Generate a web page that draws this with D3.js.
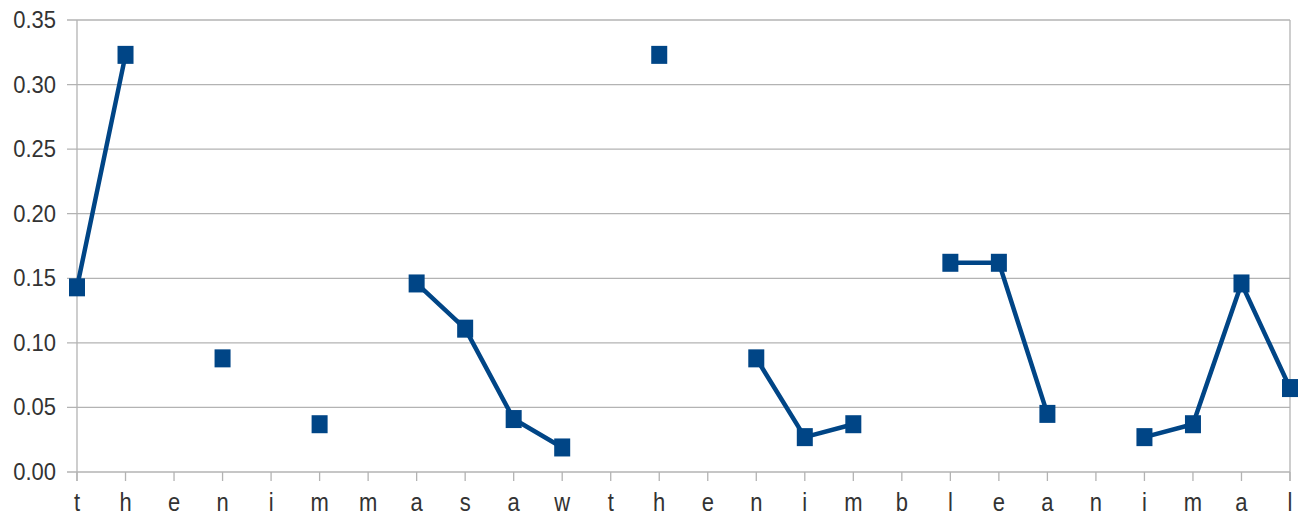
<!DOCTYPE html>
<html><head><meta charset="utf-8">
<script src="https://cdn.jsdelivr.net/npm/d3@7"></script>
<style>body{margin:0;background:#fff}svg{display:block}text{font-family:"Liberation Sans",Arial,sans-serif}</style>
</head><body>
<svg id="c" width="1304" height="517"></svg>
<script>
const categories = ["t","h","e","n","i","m","m","a","s","a","w","t","h","e","n","i","m","b","l","e","a","n","i","m","a","l"];
const values = [0.143,0.323,null,0.088,null,0.037,null,0.146,0.111,0.041,0.019,null,0.323,null,0.088,0.027,0.037,null,0.162,0.162,0.045,null,0.027,0.037,0.146,0.065];
const yTicks = [0,0.05,0.10,0.15,0.20,0.25,0.30,0.35];

(function(){
const svg = d3.select("#c");
const pl = 77, pr = 1290, pt = 20, pb = 472;
const x = d3.scalePoint().domain(d3.range(categories.length)).range([pl, pr]);
const y = d3.scaleLinear().domain([0, 0.35]).range([pb, pt]);
const grid = "#b3b3b3";

svg.append("g").selectAll("line").data(yTicks).join("line")
  .attr("x1", pl - 10).attr("x2", pr)
  .attr("y1", d => y(d)).attr("y2", d => y(d))
  .attr("stroke", grid).attr("stroke-width", 1.3);
svg.append("line").attr("x1", pl).attr("x2", pl).attr("y1", pt).attr("y2", pb + 9).attr("stroke", grid).attr("stroke-width", 1.3);
svg.append("line").attr("x1", pr).attr("x2", pr).attr("y1", pt).attr("y2", pb + 9).attr("stroke", grid).attr("stroke-width", 1.3);
svg.append("g").selectAll("line").data(d3.range(categories.length)).join("line")
  .attr("x1", d => x(d)).attr("x2", d => x(d))
  .attr("y1", pb).attr("y2", pb + 9)
  .attr("stroke", grid).attr("stroke-width", 1.3);
svg.append("g").selectAll("text").data(yTicks).join("text")
  .attr("transform", d => `translate(56,${y(d) + 8}) scale(1,1.1)`)
  .attr("text-anchor", "end").attr("font-size", 22).attr("fill", "#333")
  .text(d => d3.format(".2f")(d));
svg.append("g").selectAll("text").data(categories).join("text")
  .attr("transform", (d, i) => `translate(${x(i)},511) scale(1,1.15)`)
  .attr("text-anchor", "middle").attr("font-size", 22).attr("fill", "#333")
  .text(d => d);

const color = "#004586";
const line = d3.line().defined(d => d != null).x((d, i) => x(i)).y(d => y(d));
svg.append("path").datum(values).attr("d", line)
  .attr("fill", "none").attr("stroke", color).attr("stroke-width", 4.5).attr("stroke-linejoin", "round");
const pts = values.map((v, i) => ({v, i})).filter(d => d.v != null);
svg.append("g").selectAll("rect").data(pts).join("rect")
  .attr("x", d => x(d.i) - 8).attr("y", d => y(d.v) - 9)
  .attr("width", 16).attr("height", 18).attr("fill", color);
})();
</script>
</body></html>
